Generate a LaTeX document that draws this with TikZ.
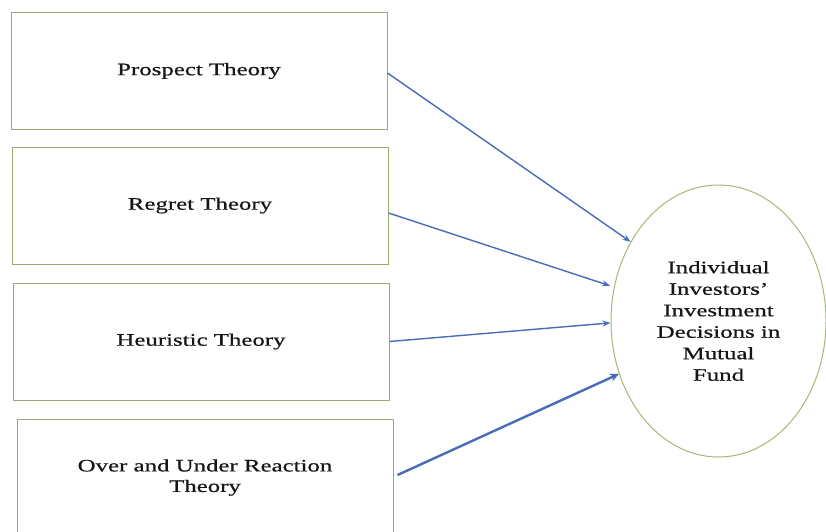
\documentclass[tikz,border=0pt]{standalone}
\usepackage{fontspec}
\setmainfont{Liberation Serif}[FakeStretch=1.42,FakeBold=0.6]
\usetikzlibrary{shapes.geometric,arrows.meta}
\definecolor{boxline}{RGB}{150,172,112}
\definecolor{ellline}{RGB}{168,184,120}
\definecolor{arrblue}{RGB}{72,108,186}
\definecolor{txt}{RGB}{22,22,22}
\tikzset{
  theorybox/.style={draw=boxline, line width=1pt, rectangle, fill=white,
    minimum width=376pt, minimum height=117pt, inner sep=0pt, align=center,
    text=txt, font=\fontsize{17.5}{20.5}\selectfont},
  outcome/.style={draw=ellline, line width=1pt, ellipse, fill=white,
    minimum width=215pt, minimum height=272pt, inner sep=0pt, align=center,
    text=txt, font=\fontsize{17.5}{21.5}\selectfont},
  link/.style={draw=arrblue, line width=1.4pt, -{Stealth[length=8pt,width=6pt]}},
  biglink/.style={draw=arrblue, line width=2.4pt, -{Stealth[length=9pt,width=8pt]}}
}
\begin{document}
\begin{tikzpicture}[x=1pt,y=-1pt]
\clip (0,0) rectangle (826,531);
\fill[white] (0,0) rectangle (826,531);
\node[theorybox] (p) at (199,71) {Prospect Theory};
\node[theorybox] (r) at (200,205.5) {Regret Theory};
\node[theorybox] (h) at (201,341.5) {Heuristic Theory};
\node[theorybox] (o) at (205,477.5) {Over and Under Reaction\\Theory};
\node[outcome] (e) at (718.5,321) {Individual\\Investors'\\Investment\\Decisions in\\Mutual\\Fund};
\draw[link] ([yshift=-2pt]p.east) -- (e.138.7);
\draw[link, shorten >=4pt] ([yshift=-7.5pt]r.east) -- (e.162.8);
\draw[link] (h.east) -- (e.181.6);
\draw[biglink] ([xshift=4pt,yshift=2.5pt]o.east) -- (e.208.9);
\end{tikzpicture}
\end{document}
